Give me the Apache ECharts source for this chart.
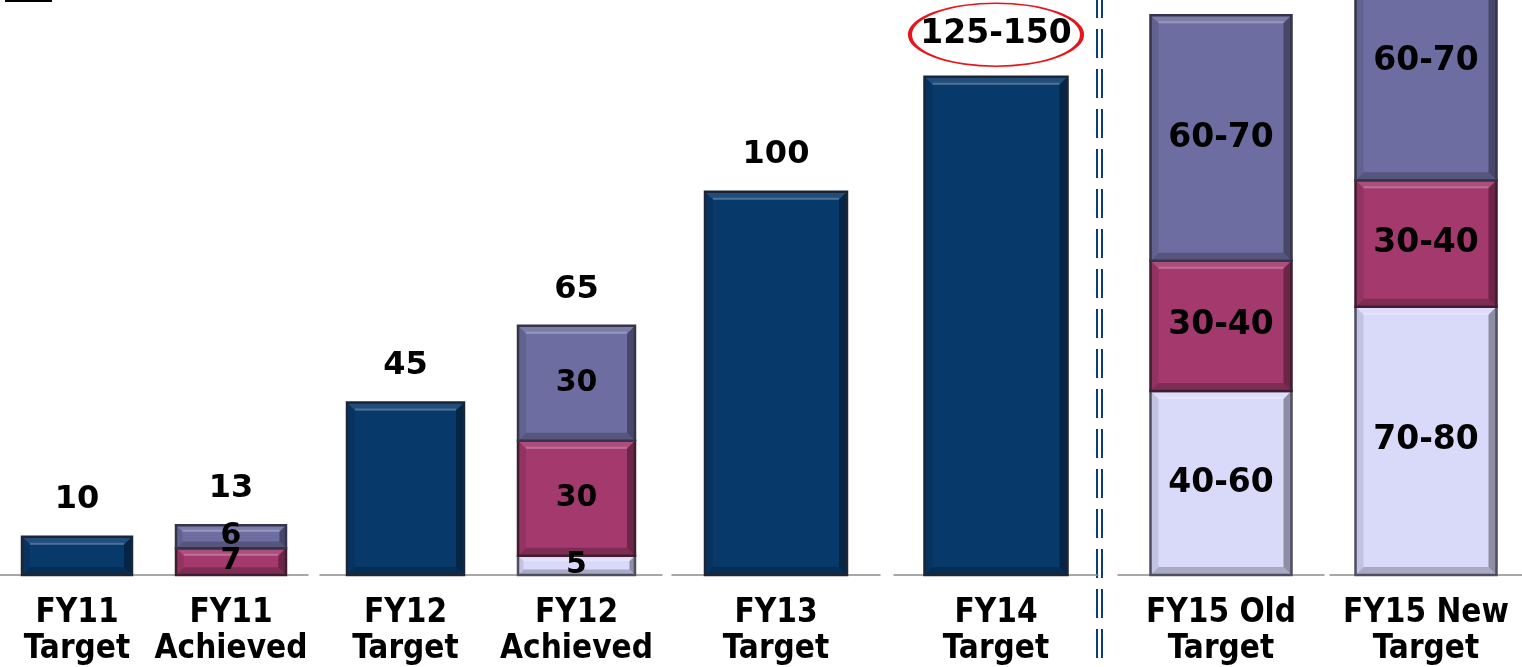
<!DOCTYPE html>
<html>
<head>
<meta charset="utf-8">
<script src="https://cdn.jsdelivr.net/npm/echarts@6/dist/echarts.min.js"></script>
<style>
  html, body { margin: 0; padding: 0; background: #fff; }
  #chart { width: 1522px; height: 667px; }
</style>
</head>
<body>
<div id="chart"></div>
<script>
// categories and which baseline group (grid) each one sits on
const categories = ['FY11\nTarget', 'FY11\nAchieved', 'FY12\nTarget', 'FY12\nAchieved', 'FY13\nTarget', 'FY14\nTarget', 'FY15 Old\nTarget', 'FY15 New\nTarget']
const gridOf = [0, 0, 1, 1, 2, 3, 4, 5]

// bar values (segments are stacked bottom to top: low, mid, high)
const solidValues = [10, null, 45, null, 100, 130, null, null]
const lowValues = [null, null, null, 5, null, null, 48, 70]
const midValues = [null, 7, null, 30, null, null, 34, 33]
const highValues = [null, 6, null, 30, null, null, 64, 62]

// texts shown on the bars
const lowLabels = ['', '', '', '5', '', '', '40-60', '70-80']
const midLabels = ['', '7', '', '30', '', '', '30-40', '30-40']
const highLabels = ['', '6', '', '30', '', '', '60-70', '60-70']
const totalLabels = ['10', '13', '45', '65', '100', '125-150', '', '']
const circledIndex = 5

const FONT = '"DejaVu Sans", Verdana, sans-serif'
const FONT_COND = '"DejaVu Sans Condensed", "DejaVu Sans", sans-serif'

// layout of the six baseline groups
const gridBoxes = [
  { left: -10, width: 318, barWidth: 110 },
  { left: 320, width: 342, barWidth: 117 },
  { left: 672, width: 208, barWidth: 142 },
  { left: 894, width: 204, barWidth: 143 },
  { left: 1118, width: 206, barWidth: 141 },
  { left: 1330, width: 215, barWidth: 141 },
]

const layers = [
  { values: solidValues, labels: null, color: '#08396b', border: '#1b2535' },
  { values: lowValues, labels: lowLabels, color: '#d9d9fa', border: '#4e4e60' },
  { values: midValues, labels: midLabels, color: '#a3396d', border: '#3e1d2e' },
  { values: highValues, labels: highLabels, color: '#6d6da1', border: '#34344a' },
]

// mix a hex colour toward white (f > 0) or black (f < 0)
function shade(hex, f) {
  const n = parseInt(hex.slice(1), 16)
  const ch = [(n >> 16) & 255, (n >> 8) & 255, n & 255].map((c) =>
    Math.round(f >= 0 ? c + (255 - c) * f : c * (1 + f))
  )
  return 'rgb(' + ch.join(',') + ')'
}

const totals = categories.map((_, i) => {
  if (solidValues[i] != null) return solidValues[i]
  return (lowValues[i] || 0) + (midValues[i] || 0) + (highValues[i] || 0)
})

// bevelled bar segment drawn through the axis scales
function makeRender(layer, barWidth) {
  return function (params, api) {
    const p0 = api.coord([api.value(0), api.value(1)])
    const p1 = api.coord([api.value(0), api.value(2)])
    const L = p0[0] - barWidth / 2
    const R = p0[0] + barWidth / 2
    const T = p1[1]
    const B = p0[1]
    const h = B - T
    const b = Math.min(8, h / 3.5)
    const c = layer.color
    const poly = (pts, fill) => ({ type: 'polygon', shape: { points: pts }, style: { fill } })
    const children = [
      { type: 'rect', shape: { x: L, y: T, width: R - L, height: h }, style: { fill: c } },
      poly([[L, T], [R, T], [R - b, T + b], [L + b, T + b]], shade(c, 0.1)),
      poly([[L, B], [R, B], [R - b, B - b], [L + b, B - b]], shade(c, -0.22)),
      poly([[L, T], [L + b, T + b], [L + b, B - b], [L, B]], shade(c, -0.1)),
      poly([[R, T], [R - b, T + b], [R - b, B - b], [R, B]], shade(c, -0.35)),
      {
        type: 'line',
        shape: { x1: L + b, y1: T + b - 1, x2: R - b, y2: T + b - 1 },
        style: { stroke: shade(c, 0.28), lineWidth: 2 },
      },
      {
        type: 'rect',
        shape: { x: L, y: T, width: R - L, height: h },
        style: { fill: null, stroke: layer.border, lineWidth: 2.5 },
      },
    ]
    const text = layer.labels ? layer.labels[api.value(3)] : ''
    if (text) {
      children.push({
        type: 'text',
        z2: 100,
        style: {
          text,
          x: (L + R) / 2,
          y: (T + B) / 2,
          align: 'center',
          verticalAlign: 'middle',
          fill: '#000',
          fontFamily: FONT,
          fontWeight: 'bold',
          fontSize: text.indexOf('-') > 0 ? 33 : 30,
        },
      })
    }
    return { type: 'group', children }
  }
}

const grid = []
const xAxis = []
const yAxis = []
const series = []

gridBoxes.forEach((box, g) => {
  const idx = categories.map((_, i) => i).filter((i) => gridOf[i] === g)
  grid.push({ left: box.left, width: box.width, top: 0, bottom: 88 })
  xAxis.push({
    gridIndex: g,
    type: 'category',
    data: idx.map((i) => categories[i]),
    axisLine: { lineStyle: { color: '#8c8c8c', width: 1.5 } },
    axisTick: { show: false },
    axisLabel: {
      interval: 0,
      margin: 20,
      color: '#000',
      fontFamily: FONT_COND,
      fontWeight: 'bold',
      fontSize: 33,
      lineHeight: 36,
    },
  })
  yAxis.push({ gridIndex: g, type: 'value', min: 0, max: 150, show: false })

  // stacked segments: each item is [slot, base, top, category index]
  const base = idx.map(() => 0)
  layers.forEach((layer) => {
    const items = []
    idx.forEach((i, k) => {
      const v = layer.values[i]
      if (v == null) return
      items.push([k, base[k], base[k] + v, i])
      base[k] += v
    })
    if (!items.length) return
    series.push({
      type: 'custom',
      xAxisIndex: g,
      yAxisIndex: g,
      renderItem: makeRender(layer, box.barWidth),
      encode: { x: 0, y: [1, 2] },
      data: items,
      clip: false,
      silent: true,
    })
  })

  // total labels above the bars
  series.push({
    type: 'scatter',
    xAxisIndex: g,
    yAxisIndex: g,
    z: 5,
    symbolSize: 1,
    itemStyle: { color: 'rgba(0,0,0,0)', opacity: 1 },
    label: {
      show: true,
      position: 'top',
      distance: 20,
      color: '#000',
      fontFamily: FONT,
      fontWeight: 'bold',
      fontSize: 32,
      formatter: (p) => totalLabels[idx[p.dataIndex]],
    },
    data: idx.map((i) => {
      if (!totalLabels[i]) return '-'
      if (i === circledIndex) {
        return {
          value: totals[i],
          symbol: 'circle',
          symbolSize: [172, 63],
          symbolOffset: [0, -42],
          itemStyle: { color: 'rgba(0,0,0,0)', borderColor: '#e8141b', borderWidth: 2.5, opacity: 1 },
          label: { position: 'inside', fontSize: 33 },
        }
      }
      return totals[i]
    }),
    silent: true,
  })
})

const chart = echarts.init(document.getElementById('chart'))
chart.setOption({
  animation: false,
  grid,
  xAxis,
  yAxis,
  series,
  graphic: [
    { type: 'line', shape: { x1: 1097, y1: 0, x2: 1097, y2: 667 }, style: { stroke: '#0e3d6f', lineWidth: 2, lineDash: [29, 11], lineDashOffset: 11 } },
    { type: 'line', shape: { x1: 1102, y1: 0, x2: 1102, y2: 667 }, style: { stroke: '#0e3d6f', lineWidth: 2, lineDash: [29, 11], lineDashOffset: 11 } },
    { type: 'rect', shape: { x: 5, y: 0, width: 47, height: 2 }, style: { fill: '#000' } },
  ],
})
</script>
</body>
</html>
